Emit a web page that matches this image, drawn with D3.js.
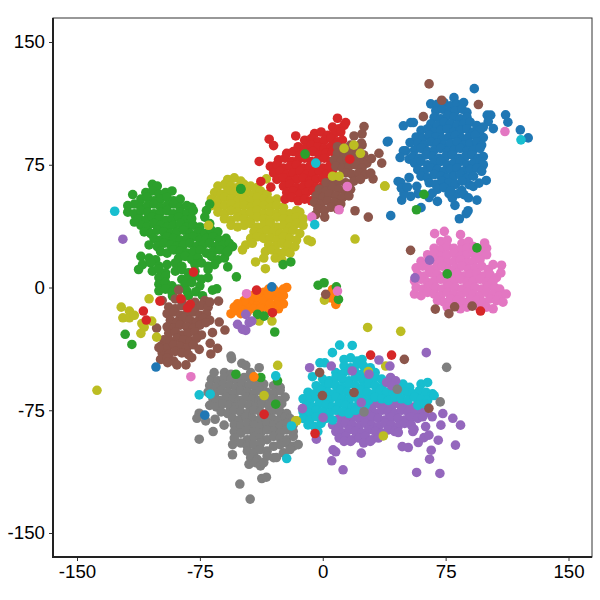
<!DOCTYPE html>
<html>
<head>
<meta charset="utf-8">
<script src="https://cdn.jsdelivr.net/npm/d3@7"></script>
<style>
html, body { margin: 0; padding: 0; background: #fff; }
svg { display: block; }
</style>
</head>
<body>
<svg id="chart" width="600" height="600"></svg>
<script>
var xTicks = [-150, -75, 0, 75, 150];
var yTicks = [-150, -75, 0, 75, 150];

// points, [x, y] in data units
var olive = [[-58,66],[-54,67],[-50,65],[-64,62],[-60,63],[-56,62],[-52,61],[-48,63],[-44,62],[-40,61],[-66,58],[-62,57],[-58,59],[-54,58],[-50,57],[-46,58],[-42,57],[-38,59],[-34,57],
[-68,54],[-64,53],[-60,55],[-56,54],[-52,53],[-48,54],[-44,53],[-40,55],[-36,54],[-32,53],[-28,54],[-68,50],[-64,49],[-60,50],[-56,51],[-52,49],[-48,50],[-44,49],[-40,51],[-36,50],[-32,49],[-28,50],[-24,49],
[-64,46],[-60,45],[-56,47],[-52,46],[-48,45],[-44,46],[-40,47],[-36,45],[-32,46],[-28,45],[-24,46],[-20,45],[-16,47],[-14,46],[-60,42],[-56,41],[-52,43],[-48,42],[-44,41],[-40,43],[-36,42],[-32,41],[-28,43],[-24,42],[-20,41],[-16,43],[-12,42],
[-56,38],[-52,37],[-48,38],[-44,39],[-40,37],[-36,38],[-32,39],[-28,37],[-24,38],[-20,37],[-16,39],[-12,38],[-42,34],[-38,33],[-34,35],[-30,34],[-26,33],[-22,34],[-18,35],[-14,33],[-44,30],[-40,31],[-36,30],[-32,30],[-28,29],[-24,31],[-20,30],[-16,29],
[-47,26],[-43,27],[-33,26],[-29,25],[-25,27],[-21,26],[-17,25],[-9,29],[-7,28],[-49,23],[-35,22],[-31,23],[-27,21],[-23,22],[-20,21],[-29,18],[-25,17],[-41,15.6],[-35,11.5],[-36,18],[-34.4,66.4]];

var green = [[-104,63],[-101,62],[-108,58],[-104,59],[-100,57],[-96,58],[-92,59],[-111,54],[-107,55],[-103,53],[-99,54],[-95,55],[-91,53],[-87,54],[-119,50],[-115,51],[-111,49],[-107,50],[-103,51],[-99,49],[-95,50],[-91,51],[-87,49],[-83,50],[-80,49],
[-119,46],[-115,45],[-111,47],[-107,46],[-103,45],[-99,46],[-95,47],[-91,45],[-87,46],[-83,45],[-79,47],[-71,47],[-112,42],[-108,41],[-104,43],[-100,42],[-96,41],[-92,42],[-88,43],[-84,41],[-80,42],[-72,43],
[-111,38],[-107,37],[-103,39],[-99,38],[-95,37],[-91,38],[-87,39],[-83,37],[-79,38],[-75,37],[-69,39],[-109,34],[-105,33],[-101,35],[-97,34],[-93,33],[-89,34],[-85,35],[-81,33],[-76,34],[-72,33],[-68,35],[-64,34],
[-103,30],[-99,29],[-95,31],[-91,30],[-87,29],[-83,30],[-79,31],[-75,29],[-71,30],[-67,31],[-63,29],[-59,30],[-106,26],[-101,25],[-97,27],[-93,26],[-89,25],[-85,26],[-81,27],[-77,25],[-73,26],[-69,27],[-65,25],[-61,26],[-57,27],[-55,25],
[-99,22],[-95,21],[-91,23],[-87,22],[-83,21],[-79,22],[-75,23],[-71,21],[-67,22],[-63,23],[-59,21],[-111,19],[-106,18],[-102,17],[-88,18],[-84,19],[-80,17],[-76,18],[-68,19],[-64,17],[-60,18],
[-110,14],[-105,15],[-100,13],[-95,14],[-90,15],[-86,13],[-78,14],[-74,15],[-70,13],[-66,14],[-104,10],[-100,11],[-96,9],[-90,10],[-86,11],[-82,9],[-78,10],[-70,11],[-100,6],[-96,7],[-86,5],[-82,6],[-78,7],[-74,5],[-70,6],
[-100,2],[-96,3],[-92,1],[-84,2],[-80,3],[-75,1],[-100,-2],[-96,-1],[-92,-3],[-88,-1],[-83,-2],[-116,56.8],[-115,40],[-112.4,11],[-52.7,6.5],[-82,-5],[-77.5,-2.6],[-73.4,-5],[-67.3,-1.6],[-64.7,-0.8],[-91.7,-5.2],[-69,51],[-58,22],[-58,12.6]];

var red = [[6,98],[10,97],[13,99],[-5,94],[-1,95],[3,93],[7,94],[11,95],[-11,90],[-7,91],[-3,89],[1,90],[5,91],[9,89],[12,90],[-15,86],[-11,85],[-7,87],[-3,86],[1,85],[5,86],[9,87],
[-22,82],[-18,83],[-14,81],[-10,82],[-6,83],[-2,81],[2,82],[6,83],[10,81],[-27,78],[-23,79],[-19,77],[-15,78],[-11,79],[-7,77],[-3,78],[1,79],[5,77],[9,78],[-32,74],[-28,75],[-24,73],[-20,74],[-16,75],[-12,73],[-8,74],[-4,75],[0,73],[4,74],[8,75],
[-30,70],[-26,71],[-22,69],[-18,70],[-14,71],[-10,69],[-6,70],[-2,71],[2,69],[6,70],[-28,66],[-24,67],[-20,65],[-16,66],[-12,67],[-8,65],[-4,66],[0,67],[4,65],[-24,62],[-20,63],[-16,61],[-12,62],[-8,63],[-4,61],[0,62],
[-22,58],[-18,59],[-14,57],[-10,58],[-6,59],[-2,57],[-23,54],[-19,55],[-15,53],[-11,54],[-7,53],[-32.7,90.6],[-30,86.7],[-16.5,92.6],[9,103.4],[14,100.8],[-38.8,77],[-37.8,64.8],[-31.7,61.3]];

var brown = [[9,86],[13,85],[17,87],[21,86],[24,87],[9,82],[13,81],[17,82],[21,83],[25,81],[7,78],[11,77],[15,78],[19,79],[23,77],[27,76],[8,74],[12,73],[16,74],[20,75],[24,73],[14,70],[18,69],[22,70],[26,69],[19,65],[23,66],
[2,64],[6,63],[10,65],[14,64],[-2,60],[2,59],[6,61],[10,60],[14,59],[17,60],[-4,56],[0,55],[4,57],[8,56],[12,55],[16,56],[-5,52],[-1,51],[3,53],[7,52],[11,51],[-3,48],[1,47],[5,49],[9,48],
[25.2,98.3],[24,93.9],[19.1,92.6],[23.6,88.2],[34.3,82],[29.7,78.8],[36,76],[30.7,66.4],[29.3,69.9],[19.7,46.9],[27.8,43],[1.2,43],[-4.3,44.5],
[-98,-8],[-90,-7],[-86,-8],[-78,-9],[-72,-8],[-94,-12],[-90,-13],[-86,-11],[-82,-12],[-78,-13],[-74,-11],[-70,-12],[-95,-16],[-91,-15],[-87,-17],[-83,-16],[-79,-15],[-75,-17],[-71,-16],[-93,-20],[-89,-21],[-85,-19],[-81,-20],[-77,-21],[-73,-19],[-69,-20],
[-95,-24],[-91,-25],[-87,-23],[-83,-24],[-79,-25],[-75,-23],[-94,-28],[-90,-27],[-86,-29],[-82,-28],[-78,-27],[-74,-29],[-97,-32],[-93,-33],[-89,-31],[-85,-32],[-81,-33],[-77,-31],[-99,-36],[-95,-37],[-91,-35],[-87,-36],[-83,-37],[-79,-35],
[-98,-40],[-94,-41],[-90,-39],[-86,-40],[-82,-41],[-99,-44],[-95,-43],[-91,-45],[-63.6,-8.3],[-68.9,-8.9],[-88,-1.6],[-101.4,-24.8],[-63.2,-21.1],[-59.7,-26],[-67.3,-27.6],[-68.7,-34.1],[-64.2,-37.2],[-68.3,-40.6],[-75.4,-37.8],[-80,-42.9],[-83.5,-47.3],[-89,-47.3],[-94.7,-45.9],[-100,-36.8],[-71.3,-21.5]];

var purple = [[32,-68],[36,-67],[40,-69],[44,-68],[26,-72],[30,-73],[34,-71],[38,-72],[42,-73],[46,-71],[50,-72],[54,-73],[58,-71],[62,-72],[16,-76],[20,-77],[24,-75],[28,-76],[32,-77],[36,-75],[40,-76],[44,-77],[48,-75],[52,-76],[56,-77],[60,-75],[62,-77],
[10,-80],[14,-81],[18,-79],[22,-80],[26,-81],[30,-79],[34,-80],[38,-81],[42,-79],[46,-80],[50,-81],[54,-79],[58,-80],[61,-79],[6,-84],[10,-85],[14,-83],[18,-84],[22,-85],[26,-83],[30,-84],[34,-85],[38,-83],[42,-84],[46,-85],[50,-83],[54,-84],
[8,-88],[12,-89],[16,-87],[20,-88],[24,-89],[28,-87],[32,-88],[36,-89],[40,-87],[44,-88],[55,-88],[10,-92],[14,-91],[18,-93],[22,-92],[26,-91],[30,-93],[34,-92],[13,-94],[17,-94],[25,-95],[29,-94],
[6.3,-99.2],[7.9,-100.4],[5.5,-105.9],[12.4,-111.4],[23.5,-101.2],[46.1,-88.6],[48.5,-97.2],[52.2,-97.8],[58.3,-94.7],[61.8,-91.7],[64.8,-90.2],[62.8,-85],[55.7,-86.6],[70.5,-93.3],[81,-96.3],[66.2,-99.4],[65.2,-104.9],[57.3,-113],[71.5,-113.6],[66.8,-79],[73.3,-77],[79.4,-79.9],[84.1,-84.1],[72.1,-84.1],[-3.9,-92.7]];

var cyan = [[10.3,-35.2],[18,-35.4],[5.9,-39.8],[-1.7,-46],[1.2,-46],[-6.3,-54.5],[13,-44],[17,-43],[21,-45],[24,-44],[13,-48],[17,-49],[21,-47],[25,-48],[29,-49],[8,-52],[12,-53],[16,-51],[20,-52],[24,-53],[28,-51],[32,-52],
[0,-56],[4,-57],[8,-55],[12,-56],[16,-57],[20,-55],[24,-56],[28,-57],[32,-55],[36,-56],[-4,-60],[0,-61],[4,-59],[8,-60],[12,-61],[16,-59],[20,-60],[24,-61],[28,-59],[32,-60],[36,-61],[45,-60],[49,-59],[53,-61],[60,-59],[64,-58],
[-9,-64],[-5,-65],[-1,-63],[3,-64],[7,-65],[11,-63],[15,-64],[19,-65],[23,-63],[27,-64],[31,-65],[35,-63],[39,-64],[43,-65],[47,-63],[51,-64],[55,-65],[59,-63],[63,-64],[67,-65],
[-12,-68],[-8,-69],[-4,-67],[0,-68],[4,-69],[8,-67],[12,-68],[16,-69],[20,-67],[24,-68],[28,-69],[32,-67],[36,-68],[40,-69],[44,-67],[48,-68],[52,-69],[56,-67],[60,-68],[64,-69],[68,-66],
[-10,-72],[-6,-73],[-2,-71],[2,-72],[6,-73],[10,-71],[14,-72],[18,-73],[22,-71],[26,-72],[58,-72],[62,-71],[-12,-76],[-8,-77],[-4,-75],[0,-76],[4,-77],[8,-75],[12,-76],[16,-77],[20,-75],[-12,-80],[-8,-81],[-4,-79],[2,-80],[6,-81],[-9,-84],[-5,-85],[-1,-83],[-3,-88]];

var gray = [[-60,-52],[-56,-53],[-44,-52],[-68,-56],[-64,-57],[-60,-55],[-56,-56],[-52,-57],[-48,-55],[-44,-56],[-40,-57],[-69,-60],[-65,-61],[-61,-59],[-57,-60],[-53,-61],[-49,-59],[-45,-60],[-41,-61],[-36,-59],[-30,-60],[-26,-61],
[-70,-64],[-66,-65],[-62,-63],[-58,-64],[-54,-65],[-50,-63],[-46,-64],[-42,-65],[-38,-63],[-34,-64],[-30,-65],[-26,-63],[-67,-68],[-63,-69],[-59,-67],[-55,-68],[-51,-69],[-47,-67],[-43,-68],[-39,-69],[-35,-67],[-31,-68],[-27,-69],[-23,-67],
[-69,-72],[-65,-73],[-61,-71],[-57,-72],[-53,-73],[-49,-71],[-45,-72],[-41,-73],[-37,-71],[-33,-72],[-29,-73],[-25,-71],[-62,-76],[-58,-77],[-54,-75],[-50,-76],[-46,-77],[-42,-75],[-38,-76],[-34,-77],[-30,-75],[-26,-76],[-22,-77],
[-55,-80],[-51,-81],[-47,-79],[-43,-80],[-39,-81],[-35,-79],[-31,-80],[-27,-81],[-23,-79],[-20,-80],[-54,-84],[-50,-85],[-46,-83],[-42,-84],[-38,-85],[-34,-83],[-30,-84],[-26,-85],[-22,-83],[-18,-84],
[-54,-88],[-50,-89],[-46,-87],[-42,-88],[-38,-89],[-34,-87],[-30,-88],[-26,-89],[-22,-87],[-18,-88],[-54,-92],[-46,-93],[-42,-91],[-38,-92],[-34,-93],[-30,-91],[-26,-92],[-22,-93],[-18,-91],[-55,-96],[-50,-95],[-46,-97],[-42,-96],[-38,-95],[-30,-97],[-26,-96],[-22,-95],[-18,-97],[-15,-96],
[-46,-100],[-42,-101],[-38,-99],[-34,-100],[-24,-101],[-20,-99],[-44,-104],[-40,-105],[-34,-103],[-30,-104],[-45,-108],[-41,-107],[-38,-109],[-36,-107],
[-56,-41.9],[-55.7,-43.5],[-49.4,-46.3],[-47,-47.6],[-38.8,-49],[-66.3,-52],[-75.4,-76.8],[-76.8,-79.9],[-65.7,-80.5],[-71.4,-81.5],[-60.2,-84.1],[-66.9,-88],[-75.4,-92.7],[-55.1,-102.2],[-28.3,-103.9],[-37.2,-116.7],[-34.4,-115.9],[-50.6,-120.1],[-44.3,-129.3]];

var pink = [[72,28],[76,29],[85,27],[89,28],[68,24],[72,23],[76,25],[80,24],[84,23],[88,24],[92,25],[96,23],[100,24],[64,20],[68,21],[72,19],[76,20],[80,21],[84,19],[88,20],[92,21],[96,19],[100,20],[60,16],[64,15],[68,17],[72,16],[76,15],[80,16],[84,17],[88,15],[92,16],[96,17],
[57,12],[61,13],[65,11],[69,12],[73,13],[77,11],[81,12],[85,13],[89,11],[93,12],[97,13],[101,11],[58,8],[62,7],[66,9],[70,8],[74,7],[78,8],[82,9],[86,7],[90,8],[94,9],[98,7],[102,8],[106,6],
[56,4],[60,5],[64,3],[68,4],[72,5],[76,3],[80,4],[84,5],[88,3],[92,4],[96,5],[100,3],[104,4],[57,0],[61,-1],[65,1],[69,0],[73,-1],[77,1],[81,0],[85,-1],[89,1],[93,0],[97,-1],[101,1],[105,0],[108,-1],
[56,-4],[60,-5],[64,-3],[68,-4],[72,-5],[76,-3],[80,-4],[84,-5],[88,-3],[92,-4],[96,-5],[100,-3],[104,-4],[108,-5],[112,-4],[70,-8],[74,-9],[78,-7],[82,-8],[86,-9],[90,-7],[94,-8],[98,-9],[102,-7],[106,-8],[110,-9],[76,-12],[80,-11],[84,-13],[88,-12],[92,-11],[96,-13],[100,-12],[104,-13],
[68.3,32.9],[74.2,34.3],[84.1,32.3],[98.8,27.2],[104,14],[109.1,13.6],[108.7,8.9]];

var orange = [[-56,-16],[-53,-14],[-50,-16],[-50,-11],[-47,-13],[-46,-9],[-44,-12],[-42,-8],[-40,-11],[-38,-6],[-36,-10],[-36,-3],[-33,-7],[-33,-1],[-30,-11],[-30,-5],[-30,-1],[-27,-8],[-27,-3],[-27,-13],[-24,-10],[-24,-5],[-22,0],[-24,-1],[-42,-13],[-46,-15],[-38,-13],[-33,-13],[-40,-6],[-36,-7],[-43,-5],[-39,-3],[-33,-4],[-28,-11],[-32,-10],[-48,-8],[-52,-10],[-54,-12],[4.9,-4.2],[6,-1.2],[7,-7.3],[8,-10.3],[4,-6.3],[5.5,-3]];

var blue = [[92.5,121.5],[80.1,116],[65.9,112.2],[111.6,105.5],[100.4,105.3],[102.5,105.3],[113,101],[101,101.4],[120.6,96.3],[125.4,91.4],[104.1,97.1],[49.2,98.8],[53.7,100.8],[55.3,100.8],[39.9,89.4],[53.3,88.6],[50.6,83.5],[49.2,83.5],[47.2,79.4],[52.7,78.4],[46,64.8],[47.6,64.2],[52.7,67.2],[99.8,65.4],[94.1,53.4],[80.7,50.2],[60,48.8],[41.5,43.9],[83.4,42],[87.6,45.1],[88.7,46.9],[70,52.6],[48.2,53.4],[53.7,55.7],[49.6,57.3],[48,60.7],[51.7,61.4],[57.4,61.8],[58.2,57.3],[64.9,55],[66.9,57.7],[77.1,57.3],[79.1,54.6],[82.6,57.3],[84.8,59.3],[86.2,56.7],[88.9,54.8],[89.3,62.8],[91.9,61.8],[95.4,63.8],[98,91.6],
[70,112],[74,113],[78,111],[82,112],[86,113],[69,108],[73,109],[77,107],[81,108],[85,109],[88,107],[68,104],[72,103],[76,105],[80,104],[84,103],[88,104],[66,100],[70,99],[74,101],[78,100],[82,99],[86,100],[90,101],[94,99],[98,98],[60,96],[64,97],[68,95],[72,96],[76,97],[80,95],[84,96],[88,97],[92,95],[96,96],
[57,92],[61,91],[65,93],[69,92],[73,91],[77,92],[81,93],[85,91],[89,92],[93,93],[58,88],[62,87],[66,89],[70,88],[74,87],[78,88],[82,89],[86,87],[90,88],[94,89],[97,87],[56,84],[60,85],[64,83],[68,84],[72,85],[76,83],[80,84],[84,85],[88,83],[92,84],[96,85],
[55,80],[59,79],[63,81],[67,80],[71,79],[75,80],[79,81],[83,79],[87,80],[91,81],[95,79],[98,80],[56,76],[60,77],[64,75],[68,76],[72,77],[76,75],[80,76],[84,77],[88,75],[92,76],[96,77],[98,75],[58,72],[62,71],[66,73],[70,72],[74,71],[78,72],[82,73],[86,71],[90,72],[94,73],[97,71],
[60,68],[64,67],[68,69],[72,68],[76,67],[80,68],[84,69],[88,67],[92,68],[65,64],[69,63],[73,65],[77,64],[81,63],[85,65],[70,60],[74,61],[78,59]];

// strays that sit on top of another colour's cloud
var topOlive = [[19,87],[23,82],[6,68],[10,68],[13,85],[27.4,-24.4],[47.6,-26.8],[19.7,29.6],[38,62],[37.8,62],[-123,-12],[-106,-6.9],[-118,-14.4],[-122,-18.5],[-118,-18.5],[-115,-17],[-110.4,-22],[-109,-24.2],[-104.4,-20.5],[-111,-28],[-101.4,-30.3],[-137.8,-62.8],[-69.7,38],[-38.8,-20.5],[-31,-20.5],[1,-7.7],[37,-90.7],[-16.5,-81.5],[27.8,-51.4],[38.4,-48],[-27.5,-47.6],[-35.8,-66],[-16,-81.5]];
var topGreen = [[-120.6,-28.6],[-116.5,-34.8],[-50,60.4],[-50,60],[-10.8,81.5],[57.2,47.5],[61.8,56.9],[-24.2,14],[-19.5,15.6],[-29.3,-27.2],[-39.8,-16.4],[-35.8,-17.5],[-2.8,1.4],[0.8,2.9],[8.3,0.4],[9.6,-7.3],[-53,-53],[-37.8,-55],[-27.6,-57],[-28.7,-71.3],[94.1,24.2],[76,8.3]];
var topRed = [[-78.9,9.4],[-109.5,-14.4],[-107.7,-19.9],[-99.4,-8.3],[-86.6,-6.9],[-80.9,-10.3],[-82.5,-12.4],[-30.7,-15.4],[-40.4,-1.6],[29.2,-41.3],[42,-41.3],[-4.7,-89.2],[96.3,-14.4],[16.5,78.4],[-35.8,-77.5]];
var topPurple = [[-122,29.5],[-52,-22.5],[-49,-25.6],[-47,-26.2],[-44.9,-21.5],[-47,-16.4],[-43.3,-20.5],[-8,-49],[5.2,-48],[18,-51],[28.2,-53],[34.3,-44.3],[41,-48],[63.2,-39.8],[-12.4,-74],[0.2,-79.5],[23.5,-70.3],[41.4,-55],[44.5,-57],[39,-58],[42,-60],[65.2,16.7],[56.3,5.9]];
var topBrown = [[64.9,124.4],[72.6,114.4],[95,111.8],[61.4,104.4],[1.8,-4.2],[49.8,-43.9],[-1.9,-52],[19.1,-64.2],[64.8,-73.8],[-0.2,-66],[53.6,22.7],[68.7,-13.2],[77,-16],[80.5,-11.8],[91.2,-11.4]];
var topPink = [[111.2,95.3],[-6.7,43],[10,47.5],[15,61.7],[-80.5,-54.5],[-46.5,-3.8],[9,-2.2]];
var topGray = [[75.6,-48.8],[71.7,-69.9],[45.5,-62.2],[25.2,-76]];
var topCyan = [[121,90.2],[-4.3,76],[-4.9,38.4],[-127,46.6],[-75.4,-65.6],[-68.7,-65.2],[-22,-104.5],[-28.7,-54],[-19.1,-84.6]];
var topBlue = [[-101.8,-48.6],[-31.1,0.4],[-72,-78],[39.4,89]];
var topOrange = [[-42,-54.6]];

var svg = d3.select("#chart");
var panel = { left: 53, right: 592, top: 18, bottom: 557 };

var x = d3.scaleLinear().domain([-150, 150]).range([77, 568.5]);
var y = d3.scaleLinear().domain([-150, 150]).range([533, 42]);

function drawPoints(points, color) {
    svg.append("g").selectAll("circle").data(points).enter().append("circle")
        .attr("cx", function(d) { return x(d[0]); })
        .attr("cy", function(d) { return y(d[1]); })
        .attr("r", 4.8)
        .attr("fill", color);
}

drawPoints(olive, "#bcbd22");
drawPoints(green, "#2ca02c");
drawPoints(red, "#d62728");
drawPoints(brown, "#8c564b");
drawPoints(purple, "#9467bd");
drawPoints(cyan, "#17becf");
drawPoints(gray, "#7f7f7f");
drawPoints(pink, "#e377c2");
drawPoints(orange, "#ff7f0e");
drawPoints(blue, "#1f77b4");

drawPoints(topOlive, "#bcbd22");
drawPoints(topGreen, "#2ca02c");
drawPoints(topRed, "#d62728");
drawPoints(topPurple, "#9467bd");
drawPoints(topBrown, "#8c564b");
drawPoints(topPink, "#e377c2");
drawPoints(topGray, "#7f7f7f");
drawPoints(topCyan, "#17becf");
drawPoints(topBlue, "#1f77b4");
drawPoints(topOrange, "#ff7f0e");

// panel border, the left and bottom edges are heavier
svg.append("rect")
    .attr("x", panel.left).attr("y", panel.top)
    .attr("width", panel.right - panel.left).attr("height", panel.bottom - panel.top)
    .attr("fill", "none").attr("stroke", "#333").attr("stroke-width", 1);

var xAxis = svg.append("g")
    .attr("transform", "translate(0," + panel.bottom + ")")
    .call(d3.axisBottom(x).tickValues(xTicks).tickSize(4).tickPadding(4).tickFormat(String));
var yAxis = svg.append("g")
    .attr("transform", "translate(" + panel.left + ",0)")
    .call(d3.axisLeft(y).tickValues(yTicks).tickSize(4).tickPadding(4).tickFormat(String));

[xAxis, yAxis].forEach(function(axis) {
    axis.select(".domain").remove();
    axis.selectAll("line").attr("stroke", "#333");
    axis.selectAll("text")
        .attr("fill", "#000")
        .style("font-family", "'Liberation Sans', Arial, sans-serif")
        .style("font-size", "18.7px");
});

svg.append("line").attr("x1", panel.left).attr("x2", panel.left)
    .attr("y1", panel.top).attr("y2", panel.bottom + 1)
    .attr("stroke", "#222").attr("stroke-width", 2);
svg.append("line").attr("x1", panel.left - 1).attr("x2", panel.right)
    .attr("y1", panel.bottom).attr("y2", panel.bottom)
    .attr("stroke", "#222").attr("stroke-width", 2);
</script>
</body>
</html>
